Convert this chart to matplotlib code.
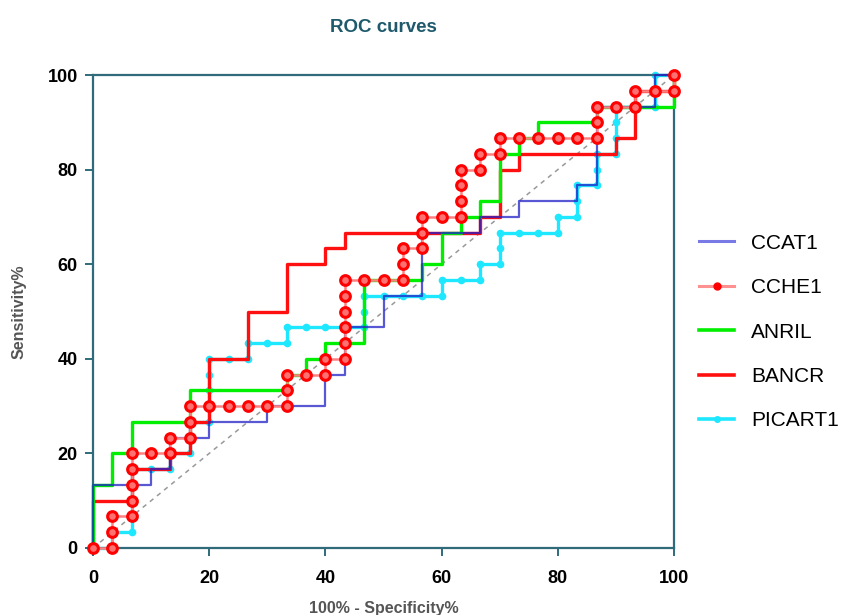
import matplotlib
matplotlib.use('Agg')
import matplotlib.pyplot as plt

plt.rcParams['font.family'] = ['Liberation Sans', 'DejaVu Sans']

# ROC points (100% - specificity, sensitivity)
ccat1_x = [0, 0, 10, 10, 13.33, 13.33, 20, 20, 30, 30, 40, 40, 43.33, 43.33, 50, 50, 56.67, 56.67,
           66.67, 66.67, 73.33, 73.33, 83.33, 83.33, 86.67, 86.67, 96.67, 96.67, 100]
ccat1_y = [0, 13.33, 13.33, 16.67, 16.67, 23.33, 23.33, 26.67, 26.67, 30, 30, 36.67, 36.67, 46.67,
           46.67, 53.33, 53.33, 66.67, 66.67, 70, 70, 73.33, 73.33, 76.67, 76.67, 93.33, 93.33, 100, 100]

cche1_x = [0, 3.33, 3.33, 3.33, 6.67, 6.67, 6.67, 6.67, 6.67, 10, 13.33, 13.33, 16.67, 16.67, 16.67,
           20, 23.33, 26.67, 30, 33.33, 33.33, 33.33, 36.67, 40, 40, 43.33, 43.33, 43.33, 43.33, 43.33,
           43.33, 46.67, 50, 53.33, 53.33, 53.33, 56.67, 56.67, 56.67, 60, 63.33, 63.33, 63.33, 63.33,
           66.67, 66.67, 70, 70, 73.33, 76.67, 80, 83.33, 86.67, 86.67, 86.67, 90, 93.33, 93.33, 96.67,
           100, 100]
cche1_y = [0, 0, 3.33, 6.67, 6.67, 10, 13.33, 16.67, 20, 20, 20, 23.33, 23.33, 26.67, 30, 30, 30, 30,
           30, 30, 33.33, 36.67, 36.67, 36.67, 40, 40, 43.33, 46.67, 50, 53.33, 56.67, 56.67, 56.67,
           56.67, 60, 63.33, 63.33, 66.67, 70, 70, 70, 73.33, 76.67, 80, 80, 83.33, 83.33, 86.67, 86.67,
           86.67, 86.67, 86.67, 86.67, 90, 93.33, 93.33, 93.33, 96.67, 96.67, 96.67, 100]

anril_x = [0, 0, 3.33, 3.33, 6.67, 6.67, 16.67, 16.67, 33.33, 33.33, 36.67, 36.67, 40, 40, 46.67,
           46.67, 56.67, 56.67, 60, 60, 63.33, 63.33, 66.67, 66.67, 70, 70, 73.33, 73.33, 76.67, 76.67,
           86.67, 86.67, 100, 100]
anril_y = [0, 13.33, 13.33, 20, 20, 26.67, 26.67, 33.33, 33.33, 36.67, 36.67, 40, 40, 43.33, 43.33,
           56.67, 56.67, 60, 60, 66.67, 66.67, 70, 70, 73.33, 73.33, 83.33, 83.33, 86.67, 86.67, 90, 90,
           93.33, 93.33, 100]

bancr_x = [0, 0, 6.67, 6.67, 13.33, 13.33, 16.67, 16.67, 20, 20, 26.67, 26.67, 33.33, 33.33, 40, 40,
           43.33, 43.33, 66.67, 66.67, 70, 70, 73.33, 73.33, 90, 90, 93.33, 93.33, 100, 100]
bancr_y = [0, 10, 10, 16.67, 16.67, 20, 20, 26.67, 26.67, 40, 40, 50, 50, 60, 60, 63.33, 63.33, 66.67,
           66.67, 70, 70, 80, 80, 83.33, 83.33, 86.67, 86.67, 96.67, 96.67, 100]

picart1_x = [0, 3.33, 3.33, 6.67, 6.67, 6.67, 6.67, 6.67, 10, 13.33, 13.33, 16.67, 16.67, 16.67, 20,
             20, 20, 20, 20, 23.33, 26.67, 26.67, 30, 33.33, 33.33, 36.67, 40, 43.33, 46.67, 46.67,
             46.67, 50, 53.33, 56.67, 60, 60, 63.33, 66.67, 66.67, 70, 70, 70, 73.33, 76.67, 80, 80,
             83.33, 83.33, 83.33, 86.67, 86.67, 86.67, 90, 90, 90, 90, 93.33, 96.67, 96.67, 96.67, 100]
picart1_y = [0, 0, 3.33, 3.33, 6.67, 10, 13.33, 16.67, 16.67, 16.67, 20, 20, 23.33, 26.67, 26.67, 30,
             33.33, 36.67, 40, 40, 40, 43.33, 43.33, 43.33, 46.67, 46.67, 46.67, 46.67, 46.67, 50,
             53.33, 53.33, 53.33, 53.33, 53.33, 56.67, 56.67, 56.67, 60, 60, 63.33, 66.67, 66.67,
             66.67, 66.67, 70, 70, 73.33, 76.67, 76.67, 80, 83.33, 83.33, 86.67, 90, 93.33, 93.33,
             93.33, 96.67, 100, 100]

ticks = [0, 20, 40, 60, 80, 100]
axis_col = '#2f6b7a'

fig = plt.figure(figsize=(8.6, 6.15), dpi=100)
ax = fig.add_axes([93 / 860, 1 - 548 / 615, (674 - 93) / 860, (548 - 75) / 615])

# chance line
ax.plot([0, 100], [0, 100], ls=(0, (3, 3)), color='#999999', lw=1.1, zorder=1)

ax.plot(picart1_x, picart1_y, color='#1ee8ff', lw=2.4, marker='o', ms=4.5,
        mec='#1ee8ff', clip_on=False, zorder=2)
ax.plot(bancr_x, bancr_y, color='#ff1010', lw=2.4, clip_on=False, zorder=3)
ax.plot(anril_x, anril_y, color='#00ee00', lw=2.4, clip_on=False, zorder=4)
ax.plot(ccat1_x, ccat1_y, color='#2020c8', lw=1.6, alpha=0.75, clip_on=False, zorder=5)
ax.plot(cche1_x, cche1_y, color='#ff8080', lw=1.8, marker='o', ms=7, mfc='#ff7070',
        mec='#ff0000', mew=2.2, clip_on=False, zorder=6)

ax.set_xlim(0, 100)
ax.set_ylim(0, 100)
ax.set_xticks(ticks)
ax.set_yticks(ticks)
for s in ax.spines.values():
    s.set_color(axis_col)
    s.set_linewidth(1.6)
ax.tick_params(direction='out', length=6, width=1.4, color=axis_col, labelsize=13)
ax.tick_params(axis='x', pad=10)
ax.tick_params(axis='y', pad=5)
for lab in ax.get_xticklabels() + ax.get_yticklabels():
    lab.set_fontweight('bold')

ax.set_title('ROC curves', fontsize=13.5, fontweight='bold', color='#1e5a6b', pad=31)
ax.set_xlabel('100% - Specificity%', fontsize=11.5, fontweight='bold', color='#555555', labelpad=10)
ax.set_ylabel('Sensitivity%', fontsize=11.5, fontweight='bold', color='#555555', labelpad=15)

# legend handles: plain lines, small marker for CCHE1 / PICART1
h_cca, = ax.plot([], [], color='#7a7ae6', lw=2.2)
h_cch, = ax.plot([], [], color='#ff9090', lw=2.2, marker='o', ms=5, mfc='red', mec='red')
h_anr, = ax.plot([], [], color='#00ee00', lw=2.6)
h_ban, = ax.plot([], [], color='#ff1010', lw=2.6)
h_pic, = ax.plot([], [], color='#1ee8ff', lw=2.6, marker='o', ms=4, mfc='#1ee8ff', mec='#1ee8ff')
fig.legend([h_cca, h_cch, h_anr, h_ban, h_pic], ['CCAT1', 'CCHE1', 'ANRIL', 'BANCR', 'PICART1'],
           loc='center left', bbox_to_anchor=(699 / 860, 1 - 332 / 615), frameon=False,
           fontsize=15, handlelength=1.7, handletextpad=0.8, labelspacing=1.22,
           borderpad=0, borderaxespad=0)

fig.savefig('out.png', dpi=100)
